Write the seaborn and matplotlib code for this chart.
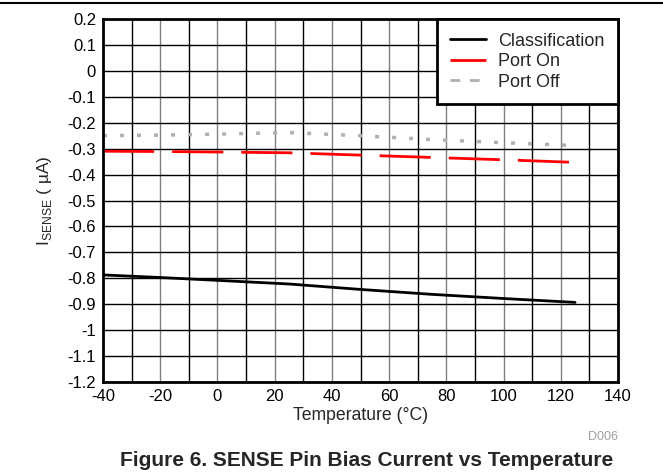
import numpy as np
import pandas as pd
import matplotlib
matplotlib.use("Agg")
import matplotlib.pyplot as plt
import seaborn as sns

# Values
temperature = [-40, -20, 0, 25, 50, 75, 100, 125]
classification = [-0.787, -0.797, -0.808, -0.822, -0.843, -0.862, -0.878, -0.893]
port_on = [-0.310, -0.311, -0.313, -0.316, -0.325, -0.334, -0.343, -0.353]
port_off = [-0.250, -0.248, -0.244, -0.238, -0.250, -0.265, -0.277, -0.288]

x_ticks = list(range(-40, 141, 20))
y_ticks = [round(v, 1) for v in np.arange(-1.2, 0.21, 0.1)]

sns.set_style("white")
plt.rcParams['font.family'] = ['Liberation Sans', 'DejaVu Sans']
plt.rcParams['mathtext.fontset'] = 'custom'
plt.rcParams['mathtext.rm'] = 'Liberation Sans'
plt.rcParams['axes.unicode_minus'] = False

df = pd.DataFrame({'Temperature': temperature * 3,
                   'Current': classification + port_on + port_off,
                   'Series': ['Classification'] * 8 + ['Port On'] * 8 + ['Port Off'] * 8})

fig = plt.figure(figsize=(6.63, 4.74), dpi=100)
ax = fig.add_axes([103 / 663, 1 - 382 / 474, 515 / 663, 363 / 474])

# dash lengths are in multiples of the line width
styles = {'Classification': dict(color='black', dashes=None, lw=2),
          'Port On': dict(color='#ff0000', dashes=(18.4, 6.5), lw=2),
          'Port Off': dict(color='#b0b0b0', dashes=(1.15, 3.75), lw=2.5)}
for name in ['Classification', 'Port On', 'Port Off']:
    sub = df[df['Series'] == name]
    st = styles[name]
    sns.lineplot(data=sub, x='Temperature', y='Current', ax=ax, color=st['color'],
                 lw=st['lw'], label=name)
    if st['dashes'] is not None:
        ax.lines[-1].set_dashes(st['dashes'])

ax.set_xlim(-40, 140)
ax.set_ylim(-1.2, 0.2)
ax.set_xticks(x_ticks)
ax.set_xticks(list(range(-30, 140, 20)), minor=True)
ax.set_yticks(y_ticks)
ax.set_yticklabels([('%g' % v) for v in y_ticks])
ax.grid(which='major', axis='x', color='#808080', lw=1)
ax.grid(which='minor', axis='x', color='black', lw=1)
ax.grid(which='major', axis='y', color='black', lw=1)
ax.set_axisbelow(True)
ax.tick_params(which='both', length=0, labelsize=12, pad=5, colors='black')
for s in ax.spines.values():
    s.set_linewidth(2)
    s.set_color('black')

ax.set_xlabel('Temperature (°C)', fontsize=12.7, labelpad=2)
ax.set_ylabel(r'I$_{\mathregular{SENSE}}$ ( µA)', fontsize=12.5, labelpad=10)

leg = ax.legend(loc='upper right', fontsize=13, frameon=True, fancybox=False,
                edgecolor='black', framealpha=1, borderpad=0.75, handlelength=2.0,
                handletextpad=0.65, labelspacing=0.2, borderaxespad=0)
leg.get_frame().set_linewidth(2)
leg_lines = leg.get_lines()
for h in leg_lines:
    h.set_linewidth(2)
leg_lines[2].set_dashes((3.5, 3.5))

fig.add_artist(plt.Line2D([0, 1], [1 - 3 / 474, 1 - 3 / 474], color='black', lw=1.5))
fig.text(618 / 663, 1 - 437 / 474, 'D006', color='#a0a0a0', fontsize=9, ha='right', va='center')
fig.text(367 / 663, 1 - 460 / 474, 'Figure 6. SENSE Pin Bias Current vs Temperature',
         fontsize=15, fontweight='bold', ha='center', va='center')

fig.savefig('out.png', dpi=100)
